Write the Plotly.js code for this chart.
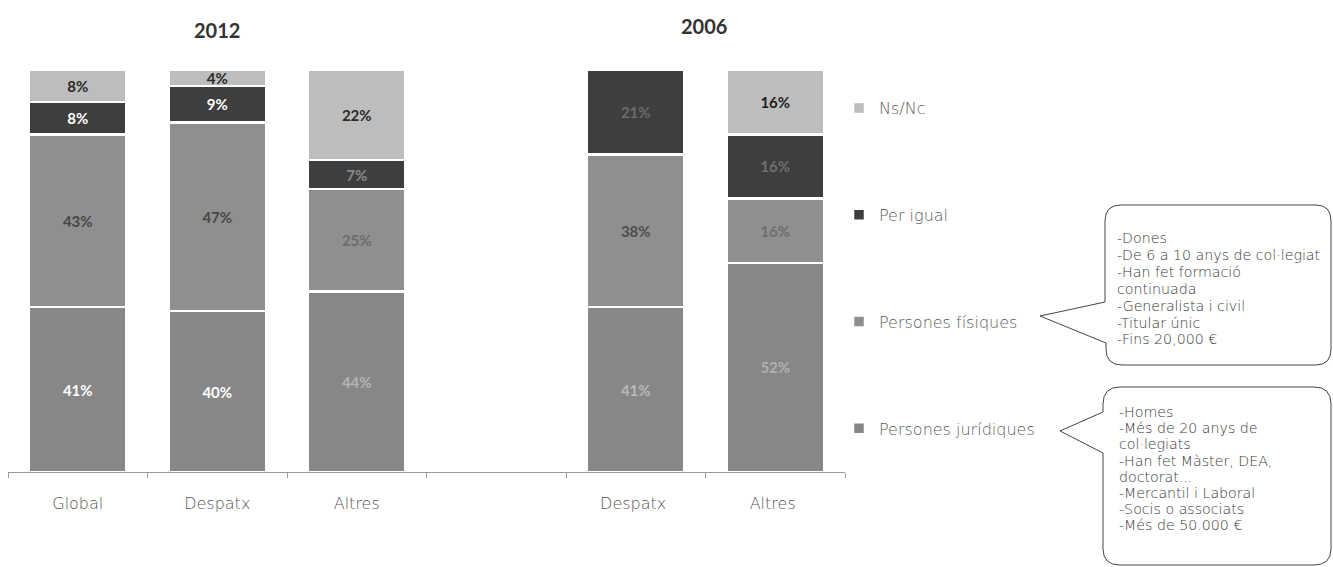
<!DOCTYPE html>
<html>
<head>
<meta charset="utf-8">
<script src="https://cdn.plot.ly/plotly-3.0.1.min.js"></script>
<style>html,body{margin:0;padding:0;background:#fff;}#chart{width:1333px;height:567px;}</style>
</head>
<body>
<div id="chart"></div>
<script>
// Categories (blank slot separates 2012 from 2006); trailing spaces keep names unique
const categories = ['Global', 'Despatx', 'Altres', ' ', 'Despatx ', 'Altres '];
const groupTitles = ['2012', '2006'];

// Series values (%)
const juridiques = [41, 40, 44, null, 41, 52];
const fisiques   = [43, 47, 25, null, 38, 16];
const perIgual   = [8, 9, 7, null, 21, 16];
const nsNc       = [8, 4, 22, null, null, 16];

const seriesNames = ['Persones jurídiques', 'Persones físiques', 'Per igual', 'Ns/Nc'];
const seriesColors = ['#878787', '#8f8f8f', '#3e3e3e', '#bdbdbd'];
// label colours (scan shows some labels very faint)
const labelColors = [
  ['#ffffff', '#ffffff', '#b4b4b4', '#fff', '#b8b8b8', '#b0b0b0'],
  ['#474747', '#474747', '#6c6c6c', '#000', '#4e4e4e', '#6e6e6e'],
  ['#ffffff', '#ffffff', '#8a8a8a', '#fff', '#6c6c6c', '#707070'],
  ['#2a2a2a', '#2a2a2a', '#2a2a2a', '#000', '#2a2a2a', '#1e1e1e']
];

const bubble1 = ['-Dones', '-De 6 a 10 anys de col·legiat', '-Han fet formació', 'continuada',
                 '-Generalista i civil', '-Titular únic', '-Fins 20,000 €'];
const bubble2 = ['-Homes', '-Més de 20 anys de', 'col·legiats', '-Han fet Màster, DEA,', 'doctorat...',
                 '-Mercantil i Laboral', '-Socis o associats', '-Més de 50.000 €'];

const W = 1333, H = 567;
const X = v => v / W;
const Y = v => 1 - v / H;
const P = (x, y) => X(x).toFixed(5) + ',' + Y(y).toFixed(5);

const allSeries = [juridiques, fisiques, perIgual, nsNc];
const traces = allSeries.map((vals, i) => ({
  type: 'bar',
  name: seriesNames[i],
  x: categories,
  y: vals,
  text: vals.map(v => v == null ? '' : v + '%'),
  textposition: 'inside',
  insidetextanchor: 'middle',
  textangle: 0,
  constraintext: 'none',
  textfont: {family: 'Lato, sans-serif', size: 15, color: labelColors[i], weight: 'bold'},
  marker: {color: seriesColors[i], line: {color: '#ffffff', width: 2.5}},
  legendgroup: 'g' + i,
  legendrank: 4 - i,
  hoverinfo: 'name+text'
}));

const thinFam = '"DejaVu Sans", Lato, sans-serif';
const boldFam = 'Lato, "DejaVu Sans", sans-serif';

const annotations = [
  {text: '<b>' + groupTitles[0] + '</b>', x: X(217), y: Y(30)},
  {text: '<b>' + groupTitles[1] + '</b>', x: X(704), y: Y(26)}
].map(a => Object.assign(a, {xref: 'paper', yref: 'paper', showarrow: false,
  xanchor: 'center', yanchor: 'middle', font: {family: boldFam, size: 20, color: '#333'}}));

const bubbleFont = {family: thinFam, size: 14.2, color: '#3a3a3a', weight: 300};
bubble1.forEach((line, i) => annotations.push({
  xref: 'paper', yref: 'paper', x: X(1115), y: Y(238 + i * 16.9), xanchor: 'left', yanchor: 'middle',
  showarrow: false, align: 'left', text: line, font: bubbleFont
}));
bubble2.forEach((line, i) => annotations.push({
  xref: 'paper', yref: 'paper', x: X(1117), y: Y(412 + i * 16.2), xanchor: 'left', yanchor: 'middle',
  showarrow: false, align: 'left', text: line, font: bubbleFont
}));

const b1 = 'M' + P(1105, 221) + ' Q' + P(1105, 205) + ' ' + P(1121, 205) + ' L' + P(1316, 205) +
  ' Q' + P(1331, 205) + ' ' + P(1331, 221) + ' L' + P(1331, 349) + ' Q' + P(1331, 365) + ' ' + P(1316, 365) +
  ' L' + P(1122, 365) + ' Q' + P(1106, 365) + ' ' + P(1106, 349) + ' L' + P(1106, 343) +
  ' L' + P(1040, 316) + ' L' + P(1105, 302) + ' Z';
const b2 = 'M' + P(1103, 404) + ' Q' + P(1103, 387) + ' ' + P(1120, 387) + ' L' + P(1314, 387) +
  ' Q' + P(1331, 387) + ' ' + P(1331, 404) + ' L' + P(1331, 549) + ' Q' + P(1331, 565) + ' ' + P(1314, 565) +
  ' L' + P(1120, 565) + ' Q' + P(1103, 565) + ' ' + P(1103, 549) + ' L' + P(1103, 453) +
  ' L' + P(1060, 431) + ' L' + P(1103, 412) + ' Z';

const layout = {
  width: W, height: H,
  margin: {l: 0, r: 0, t: 0, b: 0, pad: 0},
  paper_bgcolor: '#ffffff', plot_bgcolor: '#ffffff',
  barmode: 'stack', barnorm: 'percent', bargap: 0.3,
  font: {family: thinFam, color: '#555'},
  xaxis: {
    domain: [X(8), X(845)], type: 'category', categoryorder: 'array', categoryarray: categories,
    showline: true, linecolor: '#9a9a9a', linewidth: 1,
    ticks: 'outside', tickson: 'boundaries', ticklen: 5, tickcolor: '#9a9a9a',
    tickfont: {family: thinFam, size: 16, color: '#555', weight: 300}, ticklabelstandoff: 17,
    showgrid: false, zeroline: false, fixedrange: true
  },
  yaxis: {domain: [Y(472), Y(70)], range: [0, 100], visible: false, fixedrange: true},
  showlegend: true,
  legend: {
    x: X(839), y: Y(91), xanchor: 'left', yanchor: 'top',
    traceorder: 'grouped', tracegroupgap: 83, itemwidth: 30,
    font: {family: thinFam, size: 16, color: '#5a5a5a', weight: 300}, bgcolor: 'rgba(0,0,0,0)'
  },
  annotations: annotations,
  shapes: [
    {type: 'path', xref: 'paper', yref: 'paper', path: b1, line: {color: '#444', width: 1}},
    {type: 'path', xref: 'paper', yref: 'paper', path: b2, line: {color: '#444', width: 1}}
  ]
};

Plotly.newPlot('chart', traces, layout, {displayModeBar: false, staticPlot: true});
</script>
</body>
</html>
